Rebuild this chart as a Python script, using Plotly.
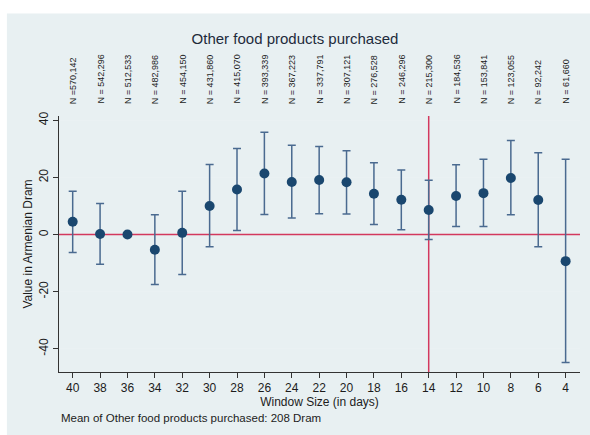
import plotly.graph_objects as go

# Window sizes (days) and estimated effects with 95% CI bounds
window = [40, 38, 36, 34, 32, 30, 28, 26, 24, 22, 20, 18, 16, 14, 12, 10, 8, 6, 4]
estimate = [4.5, 0.2, 0.0, -5.3, 0.6, 10.0, 15.8, 21.4, 18.4, 19.1, 18.3, 14.3, 12.2, 8.6, 13.5, 14.5, 19.8, 12.1, -9.3]
ci_upper = [15.2, 10.9, 0.0, 6.9, 15.2, 24.5, 30.1, 35.8, 31.3, 30.8, 29.3, 25.1, 22.6, 19.0, 24.4, 26.4, 32.9, 28.6, 26.4]
ci_lower = [-6.3, -10.4, 0.0, -17.5, -14.0, -4.3, 1.4, 7.0, 5.8, 7.3, 7.2, 3.5, 1.7, -1.7, 2.8, 2.8, 6.9, -4.3, -44.8]
n_labels = ["N =570,142", "N = 542,296", "N = 512,533", "N = 482,986", "N = 454,150",
            "N = 431,860", "N = 415,070", "N = 393,339", "N = 367,223", "N = 337,791",
            "N = 307,121", "N = 276,528", "N = 246,296", "N = 215,300", "N = 184,536",
            "N = 153,841", "N = 123,055", "N = 92,242", "N = 61,660"]
y_ticks = [-40, -20, 0, 20, 40]
chosen_window = 14
x_range = [41.0, 2.95]
y_range = [-48.1, 41.5]

FONT = "Liberation Sans, Arial, sans-serif"
NAVY = "#1a476f"
BAR = "#4a6a90"
RED = "#d3385e"
BG = "#e8f0f2"
TXT = "#1c1c1c"

err_plus = [u - e for u, e in zip(ci_upper, estimate)]
err_minus = [e - l for e, l in zip(estimate, ci_lower)]

fig = go.Figure()

# reference lines (drawn first so the estimates sit on top): zero effect and chosen window
fig.add_trace(go.Scatter(x=x_range, y=[0, 0], mode="lines",
                         line=dict(color=RED, width=1.5), hoverinfo="skip", showlegend=False))
fig.add_trace(go.Scatter(x=[chosen_window, chosen_window], y=y_range, mode="lines",
                         line=dict(color=RED, width=1.5), hoverinfo="skip", showlegend=False))

fig.add_trace(go.Scatter(
    x=window, y=estimate, mode="markers",
    marker=dict(color=NAVY, size=10),
    error_y=dict(type="data", symmetric=False, array=err_plus, arrayminus=err_minus,
                 color=BAR, thickness=1.5, width=4),
    showlegend=False,
))

# sample sizes above each window
for xv, lab in zip(window, n_labels):
    fig.add_annotation(x=xv, y=1.039, xref="x", yref="paper", text=lab,
                       textangle=-90, showarrow=False, yanchor="bottom", xanchor="center",
                       font=dict(size=9, color=TXT, family=FONT))

fig.add_annotation(x=0.0, y=-0.18, xref="paper", yref="paper",
                   text="Mean of Other food products purchased: 208 Dram",
                   showarrow=False, xanchor="left", yanchor="middle",
                   font=dict(size=11.5, color=TXT, family=FONT))

# graph region background
fig.add_shape(type="rect", xref="paper", yref="paper", x0=-0.1, x1=1.03, y0=-0.3, y1=1.40,
              fillcolor=BG, line=dict(width=0), layer="below")

fig.update_layout(
    width=590, height=435,
    margin=dict(l=59, r=10, t=116, b=63),
    paper_bgcolor="white", plot_bgcolor="white",
    font=dict(family=FONT, color=TXT, size=12),
    title=dict(text="Other food products purchased", x=0.5, xanchor="center",
               y=1 - 39 / 435, yanchor="middle",
               font=dict(size=15, color="#1e2b3c", family=FONT)),
)
fig.update_xaxes(
    range=x_range, tickmode="array", tickvals=window, ticktext=[str(w) for w in window],
    showgrid=False, zeroline=False, showline=True, linecolor="#333333", linewidth=1,
    ticks="outside", ticklen=5, tickcolor="#333333", tickfont=dict(size=12, color=TXT),
    title=dict(text="Window Size (in days)", standoff=2, font=dict(size=12, color=TXT)),
)
fig.update_yaxes(
    range=y_range, tickmode="array", tickvals=y_ticks, ticktext=[str(t) for t in y_ticks],
    tickangle=-90, showgrid=True, gridcolor="#eaf1f3", gridwidth=1, zeroline=False,
    showline=True, linecolor="#333333", linewidth=1,
    ticks="outside", ticklen=5, tickcolor="#333333", tickfont=dict(size=12, color=TXT),
    title=dict(text="Value in Armenian Dram", standoff=2, font=dict(size=12, color=TXT)),
)

fig.write_html("out.html")
